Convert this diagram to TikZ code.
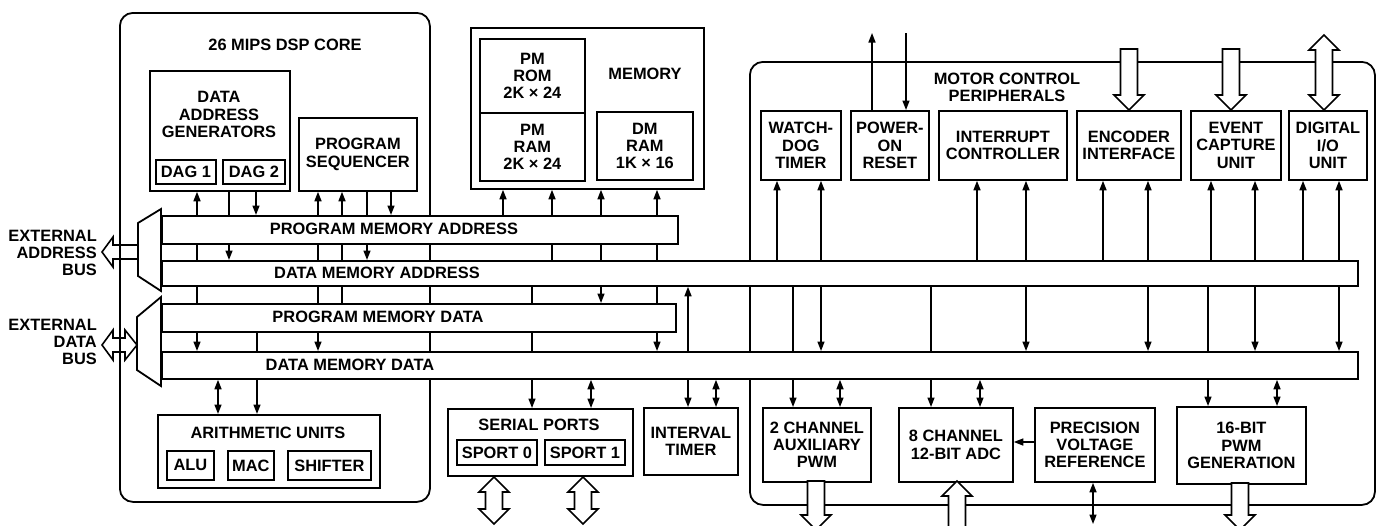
\documentclass[tikz,border=0pt]{standalone}
\usepackage{fontspec}
\setmainfont{Liberation Sans}
\usetikzlibrary{arrows.meta}
\pgfdeclarelayer{back}
\pgfsetlayers{back,main}
\newcommand{\blkdown}[3]{\draw[blk] (#1-8.5,#2) -- (#1-8.5,#3-15) -- (#1-15,#3-15) -- (#1,#3) -- (#1+15,#3-15) -- (#1+8.5,#3-15) -- (#1+8.5,#2) -- cycle;}
\newcommand{\blkup}[3]{\draw[blk] (#1-8.5,#2) -- (#1-8.5,#3+15) -- (#1-15,#3+15) -- (#1,#3) -- (#1+15,#3+15) -- (#1+8.5,#3+15) -- (#1+8.5,#2) -- cycle;}
\newcommand{\blkdbl}[3]{\draw[blk] (#1,#2) -- (#1+15,#2+15) -- (#1+8.5,#2+15) -- (#1+8.5,#3-15) -- (#1+15,#3-15) -- (#1,#3) -- (#1-15,#3-15) -- (#1-8.5,#3-15) -- (#1-8.5,#2+15) -- (#1-15,#2+15) -- cycle;}
% vertical connector at x=#2 from node anchor #3 to node anchor #4
\newcommand{\vconn}[4]{\draw[conn,#1] (#2,0 |- #3) -- (#2,0 |- #4);}
\begin{document}
\begin{tikzpicture}[x=1pt,y=-1pt,
  font=\fontsize{16.4}{17.3}\selectfont\bfseries,
  >={Triangle[length=9.5pt,width=7pt]},
  bx/.style={draw, line width=1.8pt, fill=white, inner sep=0pt, align=center, anchor=north west},
  cont/.style={draw, line width=1.8pt, rounded corners=13pt, inner sep=0pt, anchor=north west},
  bus/.style={draw, line width=1.8pt, fill=white, inner sep=0pt, anchor=north west},
  lbl/.style={inner sep=0pt, align=center},
  conn/.style={line width=1.5pt},
  blk/.style={draw, fill=white, line width=1.6pt, line join=miter},
  ext/.style={draw, line width=1.6pt, line join=miter},
  mux/.style={draw, fill=white, line width=1.8pt, line join=miter}]
\useasboundingbox (0,0) rectangle (1380,525);

% containers (behind everything)
\begin{pgfonlayer}{back}
\node[cont, minimum width=310, minimum height=489] (core) at (119,12) {};
\node[cont, minimum width=625, minimum height=443] (motor) at (749,61) {};
\end{pgfonlayer}

% DSP core boxes
\node[lbl] (coret) at (285,45) {26 MIPS DSP CORE};
\node[bx, minimum width=140, minimum height=120] (dag) at (149,70) {};
\node[lbl] (dagt) at (219,114.5) {DATA\\ADDRESS\\GENERATORS};
\node[bx, minimum width=60, minimum height=24] (dag1) at (155,159) {DAG 1};
\node[bx, minimum width=62, minimum height=24] (dag2) at (222,159) {DAG 2};
\node[bx, minimum width=118, minimum height=73] (ps) at (298,117) {PROGRAM\\SEQUENCER};
\node[bx, minimum width=222, minimum height=73] (arith) at (157,414) {};
\node[lbl] (aritht) at (268,433) {ARITHMETIC UNITS};
\node[bx, minimum width=47, minimum height=29] (alu) at (166,450) {ALU};
\node[bx, minimum width=46, minimum height=29] (mac) at (227,450) {MAC};
\node[bx, minimum width=83, minimum height=29] (shifter) at (287,450) {SHIFTER};

% memory
\node[bx, minimum width=233, minimum height=161] (mem) at (470,27) {};
\node[lbl] (memt) at (645,74) {MEMORY};
\node[bx, minimum width=105, minimum height=74] (pmrom) at (479,38) {PM\\ROM\\2K × 24};
\node[bx, minimum width=105, minimum height=68] (pmram) at (479,112) {PM\\RAM\\2K × 24};
\node[bx, minimum width=96, minimum height=68] (dmram) at (596,111) {DM\\RAM\\1K × 16};

% serial ports, timer
\node[bx, minimum width=185, minimum height=67] (serial) at (447,408) {};
\node[lbl] (serialt) at (539,425) {SERIAL PORTS};
\node[bx, minimum width=80, minimum height=25] (sp0) at (456,439) {SPORT 0};
\node[bx, minimum width=80, minimum height=25] (sp1) at (544,439) {SPORT 1};
\node[bx, minimum width=94, minimum height=67] (interval) at (643,407) {INTERVAL\\TIMER};

% motor control peripherals
\node[lbl] (motort) at (1007,87.5) {MOTOR CONTROL\\PERIPHERALS};
\node[bx, minimum width=80, minimum height=69] (watch) at (760,110) {WATCH-\\DOG\\TIMER};
\node[bx, minimum width=78, minimum height=69] (power) at (850,110) {POWER-\\ON\\RESET};
\node[bx, minimum width=128, minimum height=69] (intr) at (938,110) {INTERRUPT\\CONTROLLER};
\node[bx, minimum width=104, minimum height=69] (enc) at (1076,110) {ENCODER\\INTERFACE};
\node[bx, minimum width=90, minimum height=69] (event) at (1190,110) {EVENT\\CAPTURE\\UNIT};
\node[bx, minimum width=78, minimum height=69] (dio) at (1288,110) {DIGITAL\\I/O\\UNIT};
\node[bx, minimum width=108, minimum height=74] (aux) at (762,407) {2 CHANNEL\\AUXILIARY\\PWM};
\node[bx, minimum width=114, minimum height=74] (adc) at (898,407) {8 CHANNEL\\12-BIT ADC};
\node[bx, minimum width=120, minimum height=74] (vref) at (1034,407) {PRECISION\\VOLTAGE\\REFERENCE};
\node[bx, minimum width=129, minimum height=77] (pwm) at (1176,406) {16-BIT\\PWM\\GENERATION};

% buses
\node[bus, minimum width=516, minimum height=28] (pma) at (161,215) {};
\node[bus, minimum width=1196, minimum height=25] (dma) at (161,260) {};
\node[bus, minimum width=514, minimum height=28] (pmd) at (161,303) {};
\node[bus, minimum width=1196, minimum height=27] (dmd) at (161,351) {};
\node[lbl] (pmat) at (394,229) {PROGRAM MEMORY ADDRESS};
\node[lbl] (dmat) at (377,273) {DATA MEMORY ADDRESS};
\node[lbl] (pmdt) at (378,317) {PROGRAM MEMORY DATA};
\node[lbl] (dmdt) at (350,365) {DATA MEMORY DATA};

% connectors (on the back layer so the buses hide their crossings)
\begin{pgfonlayer}{back}
\vconn{<->}{197}{dag.south}{dmd.north}
\vconn{->}{229}{dag.south}{dma.north}
\vconn{->}{256}{dag.south}{pma.north}
\vconn{<->}{318}{ps.south}{dmd.north}
\vconn{->}{342}{pmd.north}{ps.south}
\vconn{->}{367}{ps.south}{dma.north}
\vconn{->}{391}{ps.south}{pma.north}
\vconn{->}{257}{pmd.south}{arith.north}
\vconn{<->}{218}{dmd.south}{arith.north}
\vconn{->}{503}{pma.north}{mem.south}
\vconn{->}{552}{dma.north}{mem.south}
\vconn{<->}{601}{mem.south}{pmd.north}
\vconn{<->}{657}{mem.south}{dmd.north}
\vconn{->}{532}{dma.south}{serial.north}
\vconn{<->}{591}{dmd.south}{serial.north}
\vconn{<->}{688}{dma.south}{interval.north}
\vconn{<->}{716}{dmd.south}{interval.north}
\vconn{->}{777}{dma.north}{watch.south}
\vconn{<->}{821}{watch.south}{dmd.north}
\vconn{->}{977}{dma.north}{intr.south}
\vconn{<->}{1026}{intr.south}{dmd.north}
\vconn{->}{1103}{dma.north}{enc.south}
\vconn{<->}{1148}{enc.south}{dmd.north}
\vconn{->}{1211}{dma.north}{event.south}
\vconn{<->}{1255}{event.south}{dmd.north}
\vconn{->}{1303}{dma.north}{dio.south}
\vconn{<->}{1339}{dio.south}{dmd.north}
\vconn{->}{793}{dma.south}{aux.north}
\vconn{<->}{840}{dmd.south}{aux.north}
\vconn{->}{931}{dma.south}{adc.north}
\vconn{<->}{980}{dmd.south}{adc.north}
\vconn{->}{1208}{dma.south}{pwm.north}
\vconn{<->}{1277}{dmd.south}{pwm.north}
\coordinate (rstout) at (872,33);
\coordinate (rstin) at (906,33);
\coordinate (vrefout) at (1093,524);
\draw[conn,->] (rstout |- power.north) -- (rstout);
\draw[conn,->] (rstin) -- (rstin |- power.north);
\draw[conn,<->] (vrefout |- vref.south) -- (vrefout);
\draw[conn,->] (vref.west |- 0,442) -- (adc.east |- 0,442);
\end{pgfonlayer}

% muxes
\draw[mux] (161,209) -- (138,223) -- (138,276) -- (161,291) -- cycle;
\draw[mux] (161,297) -- (137,317) -- (137,370) -- (161,386) -- cycle;

% external buses
\draw[ext] (138,245) -- (113,245) -- (113,237) -- (102,252) -- (113,267) -- (113,259) -- (138,259);
\draw[ext] (137,345) -- (125,330) -- (125,338) -- (113,338) -- (113,330) -- (102,345) -- (113,360) -- (113,352) -- (125,352) -- (125,360) -- cycle;
\node[lbl, align=right, anchor=east] (eab) at (97,253) {EXTERNAL\\ADDRESS\\BUS};
\node[lbl, align=right, anchor=east] (edb) at (97,342) {EXTERNAL\\DATA\\BUS};

% block arrows
\blkdown{1129}{49}{110}
\blkdown{1231}{49}{110}
\blkdbl{1324}{35}{110}
\blkdbl{494}{477}{524}
\blkdbl{583}{477}{524}
\blkdown{816}{481}{530}
\blkup{957}{535}{481}
\blkdown{1240}{483}{530}
\end{tikzpicture}
\end{document}
